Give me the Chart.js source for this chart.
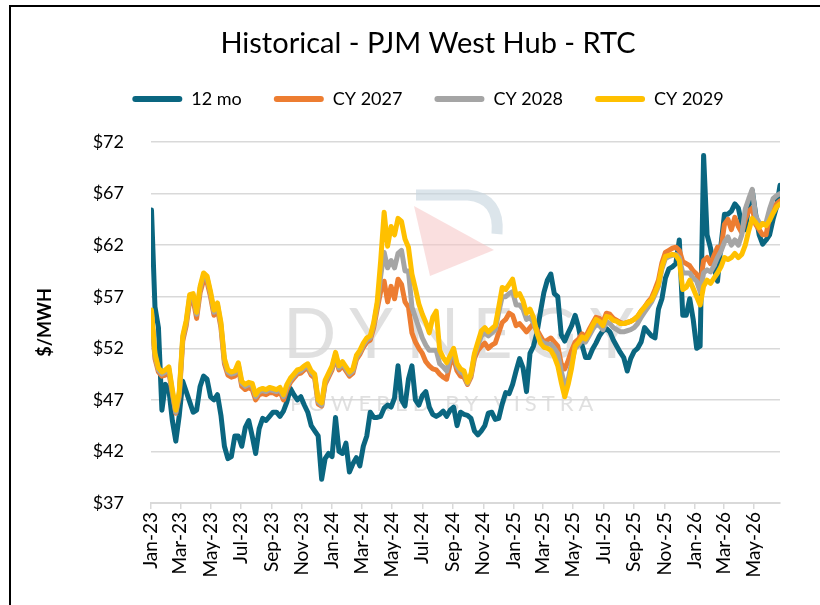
<!DOCTYPE html>
<html lang="en">
<head>
<meta charset="UTF-8">
<title>Historical - PJM West Hub - RTC</title>
<script src="https://cdn.jsdelivr.net/npm/chart.js"></script>
<style>
  html, body { margin: 0; padding: 0; background: #fff; }
  #wrap { width: 820px; height: 605px; }
</style>
</head>
<body>
<div id="wrap"><canvas id="chart" width="820" height="605"></canvas></div>
<script>
// weekly settles, first point 2 Jan 2023, one value per week
const seriesNames = ["12 mo", "CY 2027", "CY 2028", "CY 2029"];
const seriesColors = ["#0A6680", "#ED7D31", "#A5A5A5", "#FFC000"];

const mo12 = [
  65.4, 56.0, 54.0, 46.0, 48.5, 48.0, 45.0, 43.0, 45.5, 48.8,
  47.8, 46.8, 45.8, 46.0, 48.3, 49.3, 49.0, 47.3, 47.0, 47.5,
  45.5, 42.5, 41.3, 41.5, 43.5, 43.5, 42.5, 44.3, 45.0, 43.5,
  41.8, 44.2, 45.2, 45.0, 45.4, 45.8, 45.8, 45.4, 45.9, 46.8,
  48.1, 47.5, 47.0, 47.3, 46.5, 45.8, 44.5, 44.0, 43.5, 39.3,
  41.3, 41.8, 41.5, 45.3, 42.0, 41.8, 42.8, 40.0, 40.8, 41.4,
  40.6, 42.5, 43.5, 45.8, 45.3, 45.3, 45.4, 46.2, 46.5, 46.3,
  47.2, 50.3, 47.0, 46.4, 49.0, 50.3, 47.0, 46.5, 47.4, 47.8,
  46.3, 45.6, 45.4, 45.6, 45.9, 45.4, 46.0, 46.3, 44.5, 45.8,
  45.6, 45.5, 45.2, 44.0, 43.6, 44.0, 44.5, 45.7, 45.8, 45.1,
  45.2, 46.6, 47.7, 47.6, 48.5, 49.8, 51.0, 50.1, 47.8, 51.5,
  52.2, 53.5, 55.5, 57.4, 58.6, 59.2, 57.3, 57.0, 53.3, 52.7,
  53.5, 54.2, 55.2, 54.0, 52.3, 51.1, 51.1, 51.9, 52.5, 53.2,
  53.7, 53.9, 53.6, 52.8, 52.2, 51.6, 51.1, 49.8, 51.0, 51.7,
  52.0, 52.6, 54.0, 53.6, 53.2, 53.0, 55.8, 56.8, 58.8, 59.7,
  59.9, 60.2, 62.5, 55.2, 55.2, 56.8, 54.8, 52.0, 52.2, 70.7,
  63.0, 61.7, 59.8, 58.5, 62.0, 65.0, 65.0, 65.3, 66.0, 65.6,
  64.0, 63.5, 65.8, 67.3, 65.0, 63.0, 62.1, 62.5, 63.0, 64.5,
  65.7, 67.8
];

const cy2027 = [
  55.3, 51.0, 49.7, 49.3, 49.4, 49.7, 47.6, 45.7, 47.3, 52.7,
  54.2, 56.6, 56.7, 54.9, 57.4, 58.6, 58.4, 57.0, 55.2, 55.8,
  54.0, 50.5, 49.4, 49.2, 49.3, 50.1, 48.3, 48.0, 48.2, 48.0,
  47.0, 47.5, 47.6, 47.5, 47.7, 47.7, 47.5, 47.8, 47.0, 48.0,
  48.7, 49.1, 49.5, 49.6, 49.9, 50.1, 49.4, 49.1, 46.6, 46.4,
  48.5, 49.2, 49.9, 51.2, 49.9, 50.3, 49.8, 49.3, 49.6, 50.9,
  51.4, 52.1, 52.6, 52.8, 54.0, 55.8, 57.5, 58.5, 56.5, 58.0,
  56.8, 58.7, 58.2, 56.5, 56.0, 53.5, 52.6, 52.0, 51.5, 50.7,
  50.3, 50.0, 49.9, 49.5, 49.2, 49.0, 50.5, 51.0, 49.8, 49.3,
  49.2, 48.5, 49.2, 51.0, 51.8, 52.2, 52.5, 52.0, 52.3, 52.5,
  53.5, 54.5, 54.8, 55.4, 55.2, 54.2, 54.4, 54.0, 53.6, 54.0,
  54.4, 53.8, 53.2, 52.6, 52.8, 53.0, 52.6, 52.2, 50.5, 50.0,
  50.8, 51.8, 52.6, 52.9, 53.4, 53.1, 53.8, 54.4, 55.0, 54.9,
  54.5, 55.4, 55.3, 54.9, 54.7, 54.5, 54.4, 54.5, 54.6, 54.8,
  55.1, 55.6, 56.0, 56.5, 56.9, 57.7, 58.6, 60.3, 61.3, 61.5,
  61.7, 61.8, 61.5, 60.4, 60.2, 60.0, 59.5, 59.2, 58.3, 60.5,
  60.8, 60.2, 61.0, 61.8, 61.6, 64.0, 64.5, 63.5, 64.7, 63.8,
  63.2, 64.5, 65.3, 65.6, 64.0, 63.5, 63.0, 63.0, 64.8, 65.6,
  66.0, 66.3
];

const cy2028 = [
  55.5, 51.3, 49.9, 49.5, 49.7, 50.0, 47.8, 45.8, 47.6, 53.0,
  54.5, 57.0, 57.1, 55.3, 57.8, 59.1, 58.8, 57.3, 55.5, 56.2,
  54.3, 50.8, 49.7, 49.5, 49.6, 50.4, 48.6, 48.3, 48.5, 48.4,
  47.3, 47.8, 47.9, 47.8, 48.0, 47.9, 47.8, 48.0, 47.3, 48.3,
  48.9, 49.3, 49.7, 49.8, 50.1, 50.3, 49.6, 49.3, 46.8, 46.5,
  48.7, 49.4, 50.1, 51.4, 50.1, 50.5, 50.0, 49.5, 49.8, 51.1,
  51.6, 52.3, 52.8, 53.0, 54.3, 56.2, 59.0, 61.3, 59.8, 60.5,
  59.8, 61.2, 61.5, 59.5, 59.5, 56.0, 55.0, 54.0, 53.0, 52.3,
  51.8, 51.8, 51.8, 50.5, 50.2, 49.8, 51.0, 51.7, 50.2, 49.7,
  49.5, 48.6, 49.4, 51.3, 52.3, 53.2, 53.5, 53.2, 53.5, 53.8,
  55.5, 57.0, 57.0, 57.3, 57.5, 56.2, 56.2, 55.8, 54.8, 55.0,
  54.5, 53.5, 52.8, 52.5, 52.4, 52.4, 52.0, 51.5, 49.8, 48.4,
  49.0, 50.6, 52.0, 52.3, 52.8, 52.6, 53.2, 53.8, 54.3, 54.2,
  53.8, 54.6, 54.4, 54.0, 53.8, 53.6, 53.6, 53.7, 53.8, 54.0,
  54.4, 55.0, 55.5, 56.0, 56.5, 57.2, 58.0, 59.7, 60.7, 60.9,
  61.0, 61.1, 60.8, 59.3, 59.3, 59.3, 58.8, 58.5, 57.5, 59.3,
  59.6, 59.4, 60.0, 60.8, 61.4, 62.3, 62.8, 62.0, 62.5, 62.0,
  63.0, 65.5, 66.5, 67.4, 64.8, 64.2, 64.0, 64.2, 65.5, 66.5,
  66.8, 67.0
];

const cy2029 = [
  55.7, 51.5, 50.1, 49.7, 49.9, 50.2, 48.0, 46.0, 47.8, 53.2,
  54.7, 57.2, 57.3, 55.5, 58.0, 59.3, 59.0, 57.5, 55.7, 56.4,
  54.5, 51.0, 49.9, 49.7, 49.8, 50.6, 48.8, 48.5, 48.7, 48.6,
  47.5, 48.0, 48.1, 48.0, 48.2, 48.1, 48.0, 48.2, 47.5, 48.5,
  49.1, 49.5, 49.9, 50.0, 50.3, 50.5, 49.8, 49.5, 47.0, 46.7,
  48.9, 49.6, 50.3, 51.6, 50.3, 50.7, 50.2, 49.7, 50.0, 51.3,
  51.8, 52.5, 53.0, 53.2, 54.5, 56.5, 60.5, 65.2, 61.9, 63.8,
  63.0, 64.6, 64.3, 62.6, 61.8, 59.2, 57.8, 56.3, 55.3, 54.5,
  53.5, 55.0, 55.6, 51.8, 51.1, 50.6, 51.3, 52.0, 50.5, 50.0,
  49.8, 48.7, 49.5, 51.5, 52.6, 53.7, 54.0, 53.6, 53.9, 54.2,
  56.0, 57.9, 57.7, 58.2, 58.7, 57.1, 57.3, 56.6, 55.4, 55.8,
  55.0, 53.5, 52.5, 52.1, 52.0, 51.8, 51.2, 50.3, 48.7, 47.3,
  48.5, 50.1, 52.2, 52.6, 53.1, 52.9, 53.5, 54.2, 54.8, 54.6,
  54.2, 55.1, 55.0, 54.7, 54.6, 54.4, 54.4, 54.5, 54.6, 54.8,
  55.1, 55.6, 56.0, 56.4, 56.7, 57.4, 58.2, 59.9, 60.9, 61.0,
  61.1, 61.0, 60.5, 57.7, 57.9, 58.6, 57.8, 57.0, 56.2, 58.0,
  58.6, 58.3, 58.8, 59.3, 59.9, 60.8, 60.6, 60.8, 61.2, 60.8,
  61.1, 62.0, 63.4, 64.6, 64.2, 63.7, 64.1, 63.9, 64.4, 65.1,
  65.7, 66.0
];

// x axis: days since 1 Jan 2023, ticks every 2 months
const tickDays = [0, 59, 120, 181, 243, 304, 365, 425, 486, 547, 609, 670,
                  731, 790, 851, 912, 974, 1035, 1096, 1155, 1216];
const tickLabels = ["Jan-23", "Mar-23", "May-23", "Jul-23", "Sep-23", "Nov-23",
                    "Jan-24", "Mar-24", "May-24", "Jul-24", "Sep-24", "Nov-24",
                    "Jan-25", "Mar-25", "May-25", "Jul-25", "Sep-25", "Nov-25",
                    "Jan-26", "Mar-26", "May-26"];
const FIRST_DAY = 1;   // 2 Jan 2023
const LAST_DAY = 1268;

const toPoints = arr => arr.map((v, i) => ({ x: FIRST_DAY + i * 7, y: v }));

// faint logo behind the lines
const watermark = {
  id: "watermark",
  beforeDatasetsDraw(chart) {
    const ctx = chart.ctx;
    ctx.save();
    ctx.fillStyle = "rgba(246, 196, 196, 0.55)";
    ctx.beginPath();
    ctx.moveTo(414, 206);
    ctx.lineTo(494, 250);
    ctx.lineTo(430, 276);
    ctx.closePath();
    ctx.fill();
    ctx.strokeStyle = "rgba(196, 212, 222, 0.6)";
    ctx.lineWidth = 11;
    ctx.beginPath();
    ctx.moveTo(416, 195);
    ctx.lineTo(468, 195);
    ctx.quadraticCurveTo(500, 198, 497, 234);
    ctx.stroke();

    ctx.fillStyle = "rgba(214, 214, 214, 0.75)";
    ctx.textBaseline = "alphabetic";
    const spaced = (text, x, y, gap) => {
      for (const ch of text) {
        ctx.fillText(ch, x, y);
        x += ctx.measureText(ch).width + gap;
      }
    };
    ctx.font = "70px Lato";
    spaced("DYNEGY", 283, 358, 13);
    ctx.font = "22px Lato";
    spaced("POWERED BY VISTRA", 290, 411, 5);
    ctx.restore();
  }
};

const frame = {
  id: "frame",
  afterDraw(chart) {
    const ctx = chart.ctx;
    ctx.save();
    ctx.fillStyle = "#000";
    ctx.fillRect(9, 5, 811, 2);
    ctx.fillRect(9, 5, 2, 600);
    ctx.restore();
  }
};

const datasets = [mo12, cy2027, cy2028, cy2029].map((arr, i) => ({
  label: seriesNames[i],
  data: toPoints(arr),
  borderColor: seriesColors[i],
  backgroundColor: seriesColors[i],
  borderWidth: 5,
  pointRadius: 0,
  tension: 0,
  borderJoinStyle: "round",
  borderCapStyle: "round",
  order: 4 - i
}));

new Chart(document.getElementById("chart"), {
  type: "line",
  data: { datasets },
  options: {
    responsive: false,
    animation: false,
    devicePixelRatio: 1,
    layout: { padding: { left: 36, right: 0, top: 0, bottom: 0 } },
    plugins: {
      tooltip: { enabled: false },
      title: {
        display: true,
        text: "Historical - PJM West Hub - RTC",
        color: "#000",
        font: { family: "Lato", size: 29, weight: "normal", lineHeight: 1 },
        padding: { top: 29, bottom: 0 }
      },
      // empty spacer between legend and plot
      subtitle: {
        display: true,
        text: "",
        weight: 500,
        font: { size: 10, lineHeight: 1 },
        padding: { top: 14, bottom: 0 }
      },
      legend: {
        labels: {
          color: "#000",
          font: { family: "Lato", size: 18 },
          boxWidth: 50,
          boxHeight: 6,
          padding: 32,
          useBorderRadius: true,
          borderRadius: 3,
          sort: (a, b) => a.datasetIndex - b.datasetIndex,
          generateLabels: chart =>
            Chart.defaults.plugins.legend.labels.generateLabels(chart).map(item => {
              item.lineWidth = 0;
              return item;
            })
        }
      }
    },
    scales: {
      x: {
        type: "linear",
        min: 0,
        max: LAST_DAY,
        afterBuildTicks: scale => { scale.ticks = tickDays.map(v => ({ value: v })); },
        afterFit: scale => { scale.height = 102; scale.paddingRight = 40; },
        grid: { drawOnChartArea: false, drawTicks: true, tickLength: 6, color: "#d9d9d9", lineWidth: 1.5 },
        border: { display: true, color: "#d9d9d9", width: 2 },
        ticks: {
          autoSkip: false,
          maxRotation: 90,
          minRotation: 90,
          padding: 3,
          color: "#000",
          font: { family: "Lato", size: 19 },
          callback: v => tickLabels[tickDays.indexOf(v)]
        }
      },
      y: {
        min: 37,
        max: 72,
        afterFit: scale => { scale.width = 115; },
        grid: { drawTicks: false, color: "#d9d9d9", lineWidth: 1.5 },
        border: { display: false },
        ticks: {
          stepSize: 5,
          padding: 27,
          color: "#000",
          font: { family: "Lato", size: 18 },
          callback: v => "$" + v
        },
        title: {
          display: true,
          text: "$/MWH",
          color: "#000",
          font: { family: "Lato", size: 18, weight: "bold", lineHeight: 1 },
          padding: 0
        }
      }
    }
  },
  plugins: [watermark, frame]
});
</script>
</body>
</html>
